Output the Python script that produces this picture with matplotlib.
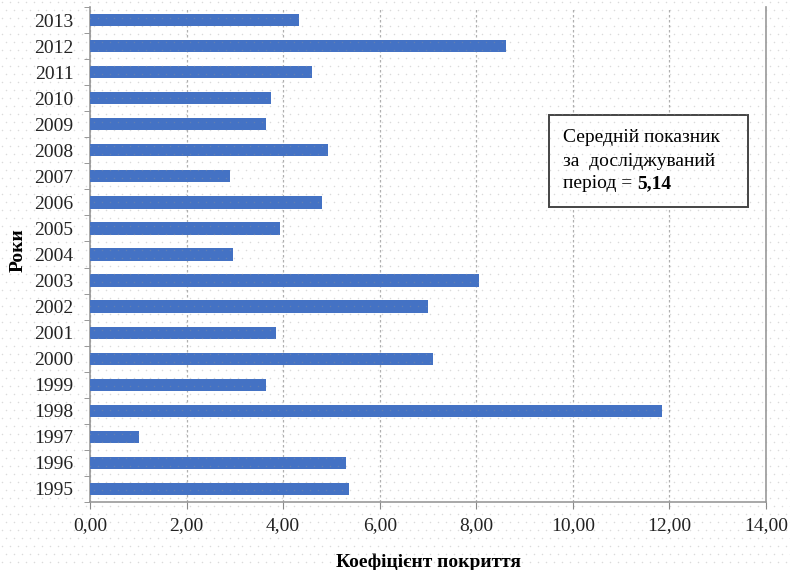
import numpy as np
import matplotlib.pyplot as plt
from matplotlib.patches import Rectangle
from matplotlib.text import Annotation

years = ['1995', '1996', '1997', '1998', '1999', '2000', '2001', '2002', '2003', '2004',
         '2005', '2006', '2007', '2008', '2009', '2010', '2011', '2012', '2013']
coverage = [5.36, 5.30, 1.01, 11.84, 3.64, 7.10, 3.85, 7.00, 8.05, 2.96,
            3.93, 4.80, 2.90, 4.93, 3.64, 3.75, 4.60, 8.61, 4.33]
xticks = [0, 2, 4, 6, 8, 10, 12, 14]

plt.rcParams['font.family'] = ['Liberation Serif', 'DejaVu Serif']

fig = plt.figure(figsize=(7.9, 5.7), dpi=100)
ax = fig.add_axes([90 / 790, 1 - 502 / 570, (766 - 90) / 790, (502 - 7) / 570])

pos = np.arange(len(years))
ax.barh(pos, coverage, height=0.47, color='#4472c4', zorder=3)

ax.set_xlim(0, 14)
ax.set_ylim(-0.5, len(years) - 0.5)
ax.set_xticks(xticks)
ax.set_xticklabels([f'{v:.2f}'.replace('.', ',') for v in xticks])
ax.set_yticks(pos)
ax.set_yticklabels(years)
ax.set_yticks(np.arange(-0.5, len(years), 1), minor=True)
ax.tick_params(axis='y', which='major', length=0, labelsize=14, pad=12, labelcolor='#222222')
ax.tick_params(axis='y', which='minor', length=4, color='#888888')
ax.tick_params(axis='x', length=5, color='#888888', labelsize=14, pad=6, labelcolor='#222222')

ax.grid(axis='x', color='#b0b0b0', linestyle=(0, (2, 2)), linewidth=0.9, zorder=0)
for s in ['left', 'bottom', 'right']:
    ax.spines[s].set_color('#999999')
    ax.spines[s].set_linewidth(1.2)
ax.spines['top'].set_visible(False)

ax.set_xlabel('Коефіцієнт покриття', fontsize=14, fontweight='bold', labelpad=14)
fig.text(18 / 790, 1 - 250 / 570, 'Роки', rotation=90, fontsize=14, fontweight='bold',
         ha='center', va='center')

# mean value box
mean = np.mean(coverage)
fig.patches.append(Rectangle((549 / 790, 1 - 207 / 570), 199 / 790, 92 / 570,
                             transform=fig.transFigure, facecolor='white',
                             edgecolor='#444444', linewidth=1.4, zorder=5))
fig.text(563 / 790, 1 - 138 / 570, 'Середній показник', fontsize=14, va='center', zorder=6)
fig.text(563 / 790, 1 - 161 / 570, 'за  досліджуваний', fontsize=14, va='center', zorder=6)
t = fig.text(563 / 790, 1 - 184 / 570, 'період = ', fontsize=14, va='center', zorder=6)
fig.add_artist(Annotation(f'{mean:.2f}'.replace('.', ','), xy=(1, 0.5), xycoords=t,
                          va='center', ha='left', fontsize=14, fontweight='bold',
                          zorder=6))

# faint dotted background over the whole figure
bg = fig.add_axes([0, 0, 1, 1], zorder=10)
bg.set_xlim(0, 790)
bg.set_ylim(570, 0)
bg.axis('off')
gx, gy = np.meshgrid(np.arange(2, 790, 8), np.arange(2, 570, 8))
gx = gx + (np.arange(gy.shape[0])[:, None] % 2) * 4
bg.scatter(gx.ravel(), gy.ravel(), s=1.2, color='#999999', alpha=0.35, linewidths=0)

fig.savefig('out.png', dpi=100)
